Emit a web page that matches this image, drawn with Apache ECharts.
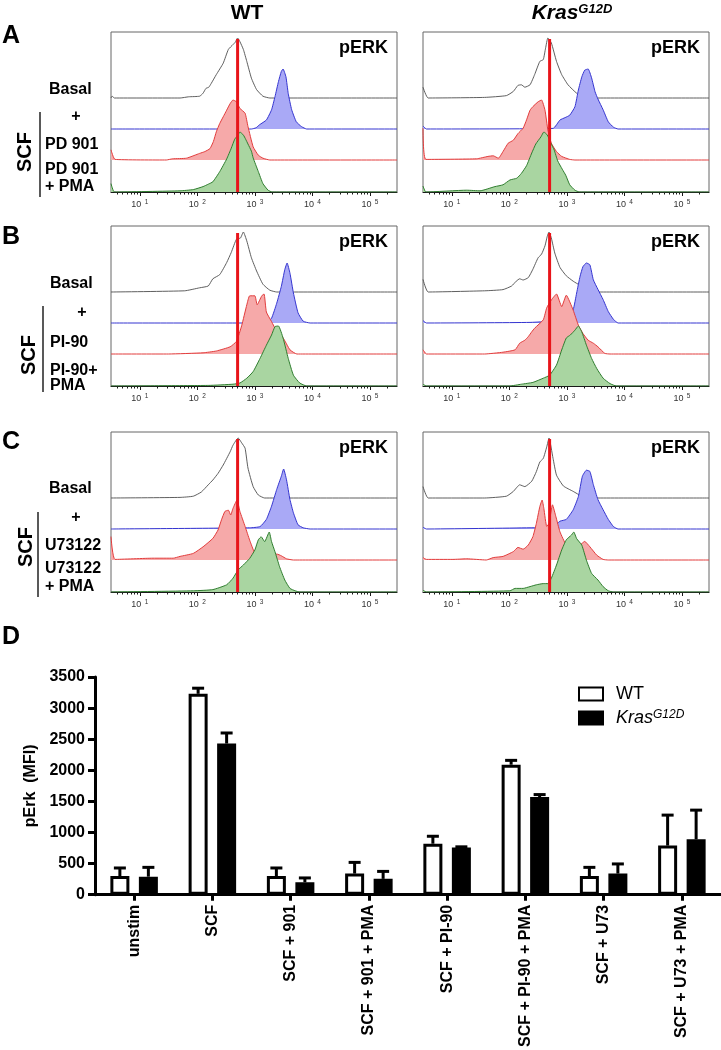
<!DOCTYPE html>
<html>
<head>
<meta charset="utf-8">
<script src="https://cdn.jsdelivr.net/npm/echarts@6/dist/echarts.min.js"></script>
<style>
  html, body { margin: 0; padding: 0; background: #fff; }
  #main { width: 721px; height: 1050px; }
</style>
</head>
<body>
<div id="main"></div>
<script>
// histogram curves: [log10 of fluorescence, % of mode]
// panel A (PD 901)
const aWtBasal = [[0.5,0],[0.52,3],[0.56,0],[1.70,0],[1.85,2],[2.04,3],[2.10,8],[2.15,16],[2.20,18],[2.24,24],[2.33,39],[2.45,58],[2.54,81],[2.62,89],[2.66,93],[2.70,100],[2.74,94],[2.80,81],[2.86,61],[2.94,33],[3.03,14],[3.14,3],[3.26,0],[5.47,0]];
const aWtScf = [[0.5,0],[2.94,0],[3.02,2],[3.08,7],[3.20,15],[3.29,32],[3.35,54],[3.41,79],[3.46,96],[3.49,100],[3.54,87],[3.58,59],[3.64,32],[3.72,12],[3.81,4],[3.90,0],[5.47,0]];
const aWtPd = [[0.5,17],[0.57,1],[1.46,0],[1.57,2],[1.81,3],[2.04,11],[2.13,14],[2.22,19],[2.28,31],[2.33,47],[2.39,61],[2.45,72],[2.51,83],[2.57,94],[2.62,100],[2.68,97],[2.74,86],[2.83,78],[2.88,56],[2.97,22],[3.06,8],[3.14,3],[3.26,0],[5.47,0]];
const aWtPdPma = [[0.5,14],[0.56,0],[1.70,2],[1.93,4],[2.10,9],[2.19,13],[2.27,17],[2.39,34],[2.51,55],[2.59,73],[2.65,88],[2.70,94],[2.74,100],[2.80,95],[2.84,88],[2.88,80],[2.94,68],[2.97,57],[3.06,34],[3.14,14],[3.23,3],[3.30,0],[5.47,0]];
const aKrBasal = [[0.5,18],[0.59,0],[1.57,1],[1.95,4],[2.07,11],[2.15,21],[2.21,22],[2.27,18],[2.36,22],[2.44,39],[2.53,61],[2.59,64],[2.63,83],[2.67,100],[2.73,92],[2.82,61],[2.91,39],[3.02,22],[3.17,8],[3.28,3],[3.46,0],[5.47,0]];
const aKrScf = [[0.5,5],[0.56,0],[2.76,1],[2.88,15],[2.97,19],[3.05,23],[3.14,37],[3.20,65],[3.26,87],[3.31,98],[3.37,100],[3.43,85],[3.49,62],[3.54,50],[3.63,32],[3.72,12],[3.81,3],[3.89,0],[5.47,0]];
const aKrPd = [[0.5,53],[0.55,1],[1.43,2],[1.63,6],[1.72,7],[1.81,3],[1.89,14],[1.98,28],[2.07,33],[2.15,44],[2.24,53],[2.30,67],[2.36,83],[2.41,89],[2.50,97],[2.56,100],[2.62,83],[2.67,50],[2.73,28],[2.82,14],[2.91,6],[3.05,1],[3.14,0],[5.47,0]];
const aKrPdPma = [[0.5,10],[0.55,0],[1.26,3],[1.49,2],[1.75,9],[1.89,12],[2.01,20],[2.13,23],[2.21,31],[2.30,44],[2.39,65],[2.46,80],[2.55,92],[2.60,100],[2.66,95],[2.72,82],[2.78,70],[2.84,52],[2.92,38],[2.98,28],[3.05,12],[3.14,3],[3.22,0],[5.47,0]];
// panel B (PI-90)
const bWtBasal = [[0.5,0],[1.78,2],[2.04,7],[2.19,10],[2.27,22],[2.39,29],[2.51,49],[2.59,66],[2.68,88],[2.75,90],[2.80,100],[2.86,85],[2.94,57],[3.03,35],[3.14,13],[3.26,3],[3.38,0],[5.47,0]];
const bWtScf = [[0.5,0],[3.20,0],[3.29,8],[3.38,33],[3.46,61],[3.52,89],[3.56,100],[3.61,83],[3.67,50],[3.75,17],[3.84,3],[3.96,0],[5.47,0]];
const bWtPi = [[0.5,0],[1.5,0],[2.10,2],[2.33,5],[2.57,12],[2.68,21],[2.77,47],[2.86,82],[2.91,97],[3.00,97],[3.04,82],[3.12,97],[3.16,100],[3.20,70],[3.29,54],[3.38,38],[3.49,27],[3.61,7],[3.73,0],[5.47,0]];
const bWtPiPma = [[0.5,0],[2.20,1],[2.62,3],[2.74,5],[2.86,13],[2.97,24],[3.09,46],[3.20,68],[3.29,85],[3.35,99],[3.41,100],[3.49,80],[3.58,46],[3.67,18],[3.78,5],[3.90,0],[5.47,0]];
const bKrBasal = [[0.5,21],[0.59,0],[1.57,2],[1.89,4],[2.04,10],[2.12,18],[2.18,22],[2.24,20],[2.33,24],[2.41,38],[2.50,57],[2.56,63],[2.62,77],[2.66,93],[2.69,100],[2.73,90],[2.79,65],[2.88,41],[2.99,27],[3.11,18],[3.23,11],[3.34,6],[3.52,0],[5.47,0]];
const bKrScf = [[0.5,4],[0.56,0],[2.36,1],[2.88,4],[3.02,8],[3.11,22],[3.17,50],[3.23,78],[3.28,94],[3.34,100],[3.40,97],[3.46,72],[3.54,56],[3.63,39],[3.72,19],[3.81,6],[3.89,0],[5.47,0]];
const bKrPi = [[0.5,7],[0.56,0],[1.57,0],[1.89,3],[2.10,7],[2.18,18],[2.27,23],[2.33,29],[2.39,37],[2.44,43],[2.59,57],[2.65,77],[2.73,90],[2.82,100],[2.91,79],[2.99,98],[3.11,73],[3.20,48],[3.28,34],[3.37,23],[3.46,18],[3.54,12],[3.66,1],[3.75,0],[5.47,0]];
const bKrPiPma = [[0.5,3],[0.56,0],[2.00,0],[2.21,3],[2.41,6],[2.59,13],[2.70,18],[2.82,35],[2.91,60],[2.99,80],[3.06,85],[3.14,93],[3.20,100],[3.26,90],[3.34,68],[3.43,46],[3.52,29],[3.63,13],[3.75,4],[3.86,0],[5.47,0]];
// panel C (U73122)
const cWtBasal = [[0.5,0],[1.70,1],[1.93,3],[2.07,10],[2.19,22],[2.27,30],[2.36,41],[2.45,55],[2.57,77],[2.62,88],[2.71,100],[2.77,92],[2.83,83],[2.88,50],[2.97,19],[3.06,5],[3.17,0],[5.47,0]];
const cWtScf = [[0.5,0],[2.91,2],[3.09,4],[3.20,16],[3.29,38],[3.38,66],[3.46,88],[3.50,100],[3.55,82],[3.61,49],[3.67,27],[3.75,7],[3.84,2],[3.96,0],[5.47,0]];
const cWtU73 = [[0.5,39],[0.57,1],[1.23,3],[1.58,3],[1.70,6],[1.93,11],[2.10,22],[2.27,36],[2.36,50],[2.42,67],[2.48,81],[2.54,83],[2.58,75],[2.62,86],[2.69,100],[2.74,81],[2.83,56],[2.91,33],[3.00,11],[3.09,4],[3.20,3],[3.32,4],[3.38,10],[3.46,7],[3.55,2],[3.67,0],[5.47,0]];
const cWtU73Pma = [[0.5,0],[1.93,2],[2.27,4],[2.51,12],[2.62,23],[2.71,37],[2.80,45],[2.91,56],[3.00,70],[3.06,87],[3.11,92],[3.17,84],[3.25,100],[3.29,84],[3.35,67],[3.43,42],[3.52,20],[3.61,6],[3.70,2],[3.78,0],[5.47,0]];
const cKrBasal = [[0.5,19],[0.59,0],[1.57,0],[1.95,3],[2.07,11],[2.18,22],[2.27,19],[2.39,28],[2.47,44],[2.53,60],[2.59,66],[2.65,85],[2.69,100],[2.76,66],[2.82,38],[2.94,20],[3.11,11],[3.26,3],[3.46,0],[5.47,0]];
const cKrScf = [[0.5,3],[0.56,0],[2.36,2],[2.76,3],[2.88,13],[2.99,16],[3.11,32],[3.20,54],[3.27,88],[3.34,98],[3.40,96],[3.46,74],[3.54,49],[3.63,32],[3.72,16],[3.81,4],[3.89,0],[5.47,0]];
const cKrU73 = [[0.5,4],[0.56,1],[1.02,1],[1.26,2],[1.60,0],[1.72,4],[1.89,6],[2.07,14],[2.15,21],[2.24,18],[2.33,25],[2.41,39],[2.47,61],[2.53,89],[2.57,100],[2.60,86],[2.65,56],[2.69,61],[2.75,92],[2.81,72],[2.88,47],[2.99,25],[3.11,19],[3.23,25],[3.31,31],[3.40,22],[3.52,8],[3.63,1],[3.72,0],[5.47,0]];
const cKrU73Pma = [[0.5,3],[0.56,0],[2.01,2],[2.10,6],[2.24,6],[2.36,9],[2.47,12],[2.59,14],[2.67,14],[2.73,23],[2.82,45],[2.91,70],[2.99,87],[3.08,95],[3.12,100],[3.17,89],[3.26,78],[3.34,53],[3.43,31],[3.54,20],[3.63,9],[3.72,2],[3.81,0],[5.47,0]];

const gateLog = 2.70;   // red gate line (~500)
const decadeTicks = [1, 2, 3, 4, 5];

// panel D
const barCategories = ['unstim', 'SCF', 'SCF + 901', 'SCF + 901 + PMA', 'SCF + PI-90', 'SCF + PI-90 + PMA', 'SCF + U73', 'SCF + U73 + PMA'];
const wtMean = [300, 3230, 300, 340, 820, 2090, 300, 790];
const wtErr = [130, 90, 130, 180, 120, 70, 140, 490];
const krasMean = [290, 2430, 200, 255, 760, 1570, 340, 890];
const krasErr = [150, 170, 70, 120, 10, 40, 155, 470];

const FONT = '"Liberation Sans", Arial, Helvetica, sans-serif';
const X_MIN = 0.5, X_MAX = 5.47;
const LANE_OFFSETS = [94, 63, 32, 0];
const PEAK_PX = 0.6;
const CURVE_STYLES = [
  { line: '#4d4d4d', fill: null },
  { line: '#3535d0', fill: '#a9a9f6' },
  { line: '#e23c3c', fill: '#f6a9a9' },
  { line: '#2f7d2f', fill: '#a9d5a1' }
];
const BAR_W = 19;
const BAR_SHIFT = 14.25;

const panels = [
  { left: 111, top: 32, curves: [aWtBasal, aWtScf, aWtPd, aWtPdPma] },
  { left: 423, top: 32, curves: [aKrBasal, aKrScf, aKrPd, aKrPdPma] },
  { left: 111, top: 226, curves: [bWtBasal, bWtScf, bWtPi, bWtPiPma] },
  { left: 423, top: 226, curves: [bKrBasal, bKrScf, bKrPi, bKrPiPma] },
  { left: 111, top: 432, curves: [cWtBasal, cWtScf, cWtU73, cWtU73Pma] },
  { left: 423, top: 432, curves: [cKrBasal, cKrScf, cKrU73, cKrU73Pma] }
];
const PANEL_W = 286, PANEL_H = 160;

const minorTicks = [];
for (let n = 0; n <= 5; n++) {
  for (let k = 2; k <= 9; k++) {
    const v = n + Math.log10(k);
    if (v > X_MIN && v < X_MAX) minorTicks.push(v);
  }
}

const chart = echarts.init(document.getElementById('main'));

const grids = [], xAxes = [], yAxes = [], series = [];

panels.forEach((p, i) => {
  grids.push({
    left: p.left, top: p.top, width: PANEL_W, height: PANEL_H,
    show: true, borderColor: '#666', borderWidth: 1, backgroundColor: 'transparent'
  });
  xAxes.push({
    type: 'value', gridIndex: i, min: X_MIN, max: X_MAX, position: 'bottom',
    axisLine: { show: true, lineStyle: { color: '#1a1a1a', width: 1.2 } },
    splitLine: { show: false },
    axisTick: { show: true, length: 4, customValues: decadeTicks, lineStyle: { color: '#1a1a1a', width: 1 } },
    axisLabel: {
      show: true, customValues: decadeTicks, margin: 7, color: '#333',
      formatter: (v) => '{b|10} {s|' + Math.round(v) + '}',
      rich: {
        b: { fontSize: 9, fontFamily: FONT, color: '#333' },
        s: { fontSize: 6.5, fontFamily: FONT, color: '#333', verticalAlign: 'top', padding: [0, 0, 5, 0] }
      }
    }
  });
  xAxes.push({
    type: 'value', gridIndex: i, min: X_MIN, max: X_MAX, position: 'bottom',
    axisLine: { show: false }, splitLine: { show: false }, axisLabel: { show: false },
    axisTick: { show: true, length: 2.5, customValues: minorTicks, lineStyle: { color: '#1a1a1a', width: 1 } }
  });
  yAxes.push({ type: 'value', gridIndex: i, min: 0, max: PANEL_H, show: false });

  p.curves.forEach((curve, j) => {
    const off = LANE_OFFSETS[j];
    const st = CURVE_STYLES[j];
    const s = {
      type: 'line', xAxisIndex: 2 * i, yAxisIndex: i,
      data: curve.map(([x, h]) => [x, off + h * PEAK_PX]),
      symbol: 'none', smooth: 0.15, silent: true,
      lineStyle: { color: st.line, width: j === 0 ? 0.9 : 1 },
      z: 2 + j
    };
    if (st.fill) s.areaStyle = { color: st.fill, opacity: 1, origin: off };
    series.push(s);
  });
  series.push({
    type: 'line', xAxisIndex: 2 * i, yAxisIndex: i,
    data: [[gateLog, 0], [gateLog, 153]],
    symbol: 'none', silent: true,
    lineStyle: { color: '#e8141a', width: 3 }, z: 10
  });
});

// bar chart grid
const BG = panels.length;
grids.push({ left: 95, top: 677, width: 626, height: 218 });
xAxes.push({
  type: 'category', gridIndex: BG, data: barCategories,
  axisLine: { show: true, lineStyle: { color: '#000', width: 3 } },
  axisTick: { show: true, alignWithLabel: true, length: 6, lineStyle: { color: '#000', width: 3 } },
  axisLabel: { rotate: 90, interval: 0, margin: 10, color: '#000', fontSize: 16, fontWeight: 'bold', fontFamily: FONT }
});
yAxes.push({
  type: 'value', gridIndex: BG, min: 0, max: 3500, interval: 500,
  name: 'pErk  (MFI)', nameLocation: 'middle', nameGap: 37, nameRotate: 90,
  nameTextStyle: { color: '#000', fontSize: 16, fontWeight: 'bold', fontFamily: FONT },
  axisLine: { show: true, lineStyle: { color: '#000', width: 3 } },
  axisTick: { show: true, length: 7, lineStyle: { color: '#000', width: 3 } },
  axisLabel: { margin: 10, color: '#000', fontSize: 16, fontWeight: 'bold', fontFamily: FONT, formatter: (v) => String(v) },
  splitLine: { show: false }
});
series.push({
  name: 'WT', type: 'bar', xAxisIndex: 2 * BG, yAxisIndex: BG,
  data: wtMean, barWidth: BAR_W, barGap: '50%',
  itemStyle: { color: '#fff', borderColor: '#000', borderWidth: 3 }
});
series.push({
  name: 'Kras', type: 'bar', xAxisIndex: 2 * BG, yAxisIndex: BG,
  data: krasMean, barWidth: BAR_W, barGap: '50%',
  itemStyle: { color: '#000', borderColor: '#000', borderWidth: 3 }
});
const errRows = wtMean.map((m, i) => [i, m, wtErr[i], 0])
  .concat(krasMean.map((m, i) => [i, m, krasErr[i], 1]));
series.push({
  type: 'custom', xAxisIndex: 2 * BG, yAxisIndex: BG, data: errRows, z: 5, silent: true,
  renderItem: function (params, api) {
    const c = api.value(0), v = api.value(1), e = api.value(2), g = api.value(3);
    const base = api.coord([c, v]);
    const top = api.coord([c, v + e]);
    const x = base[0] + (g === 0 ? -BAR_SHIFT : BAR_SHIFT);
    return {
      type: 'group',
      children: [
        { type: 'line', shape: { x1: x, y1: base[1], x2: x, y2: top[1] }, style: { stroke: '#000', lineWidth: 3 } },
        { type: 'line', shape: { x1: x - 6, y1: top[1], x2: x + 6, y2: top[1] }, style: { stroke: '#000', lineWidth: 3 } }
      ]
    };
  }
});

// labels, letters, titles
const graphic = [];
const txt = (text, x, y, size, align, extra) => graphic.push(Object.assign({
  type: 'text', x: x, y: y, silent: true,
  style: { text: text, font: 'bold ' + size + 'px ' + FONT, fill: '#000', align: align || 'left', verticalAlign: 'middle' }
}, extra || {}));

txt('WT', 247, 13, 21, 'center');
graphic.push({
  type: 'text', x: 572, y: 13, silent: true,
  style: {
    text: '{k|Kras}{s|G12D}', align: 'center', verticalAlign: 'middle',
    rich: {
      k: { fontSize: 21, fontWeight: 'bold', fontStyle: 'italic', fontFamily: FONT, fill: '#000' },
      s: { fontSize: 13, fontWeight: 'bold', fontStyle: 'italic', fontFamily: FONT, fill: '#000', verticalAlign: 'top' }
    }
  }
});
txt('A', 2, 36, 25);
txt('B', 2, 237, 25);
txt('C', 2, 442, 25);
txt('D', 2, 637, 25);

const sideLabels = [
  ['Basal', 49, 90, 'left'], ['+', 76, 117, 'center'], ['PD 901', 45, 145, 'left'], ['PD 901', 45, 170, 'left'], ['+ PMA', 45, 187, 'left'],
  ['Basal', 50, 284, 'left'], ['+', 82, 313, 'center'], ['PI-90', 50, 343, 'left'], ['PI-90+', 50, 371, 'left'], ['PMA', 50, 386, 'left'],
  ['Basal', 49, 489, 'left'], ['+', 76, 518, 'center'], ['U73122', 45, 546, 'left'], ['U73122', 45, 569, 'left'], ['+ PMA', 45, 587, 'left']
];
sideLabels.forEach(([t, x, y, a]) => txt(t, x, y, 16, a));

const brackets = [[40, 112, 197], [43, 306, 392], [38, 512, 597]];
brackets.forEach(([x, y1, y2]) => graphic.push({
  type: 'line', silent: true, shape: { x1: x, y1: y1, x2: x, y2: y2 }, style: { stroke: '#222', lineWidth: 1.5 }
}));
const scfPos = [[25, 152], [29, 355], [26, 547]];
scfPos.forEach(([x, y]) => txt('SCF', x, y, 20, 'center', { rotation: Math.PI / 2 }));

panels.forEach((p) => txt('pERK', p.left + PANEL_W - 9, p.top + 16, 18, 'right'));

chart.setOption({
  animation: false,
  backgroundColor: '#fff',
  grid: grids,
  xAxis: xAxes,
  yAxis: yAxes,
  series: series,
  legend: {
    data: ['WT', 'Kras'], left: 573, top: 680, orient: 'vertical',
    itemWidth: 24, itemHeight: 13, itemGap: 6, icon: 'rect', selectedMode: false,
    textStyle: {
      fontFamily: FONT, fontSize: 18, color: '#000', padding: [0, 0, 0, 8],
      rich: {
        n: { fontSize: 18, fontFamily: FONT, color: '#000' },
        i: { fontSize: 18, fontStyle: 'italic', fontFamily: FONT, color: '#000' },
        s: { fontSize: 12, fontStyle: 'italic', fontFamily: FONT, color: '#000', verticalAlign: 'top' }
      }
    },
    formatter: (name) => name === 'Kras' ? '{i|Kras}{s|G12D}' : '{n|WT}'
  },
  graphic: graphic
});
</script>
</body>
</html>
